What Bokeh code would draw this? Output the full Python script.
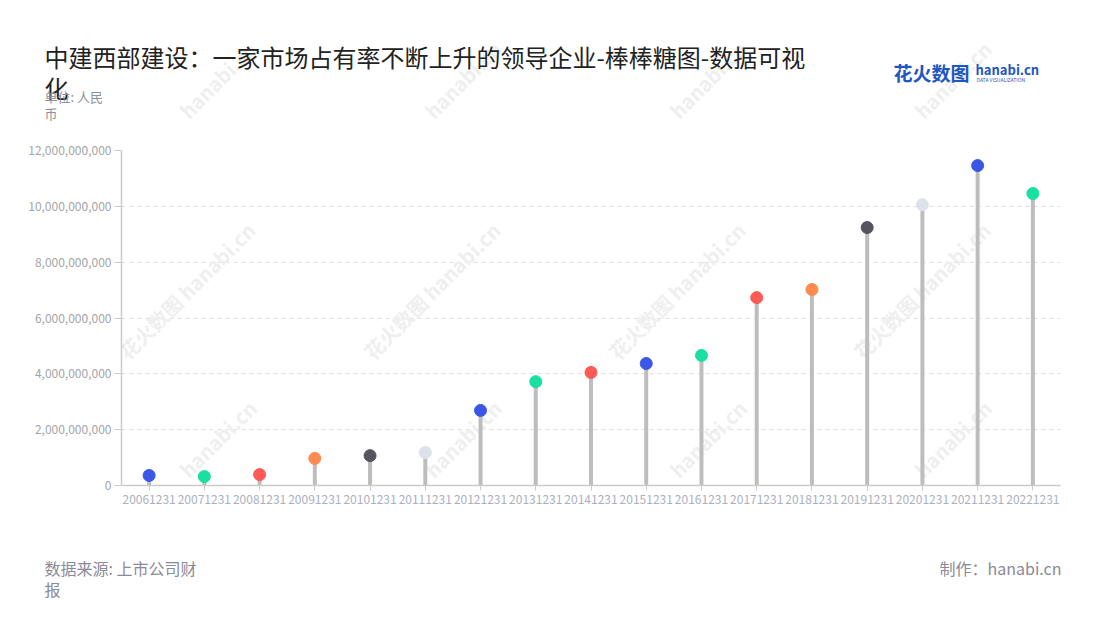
import math
from bokeh.plotting import figure
from bokeh.layouts import column, row
from bokeh.models import (FactorRange, Range1d, FixedTicker, NumeralTickFormatter, Label, ColumnDataSource)
from bokeh.embed import file_html
from bokeh.resources import INLINE

# ---- data ----
dates = ["20061231", "20071231", "20081231", "20091231", "20101231", "20111231",
         "20121231", "20131231", "20141231", "20151231", "20161231", "20171231",
         "20181231", "20191231", "20201231", "20211231", "20221231"]
values = [0.36e9, 0.32e9, 0.39e9, 0.97e9, 1.07e9, 1.18e9,
          2.69e9, 3.72e9, 4.05e9, 4.37e9, 4.66e9, 6.73e9,
          7.02e9, 9.24e9, 10.06e9, 11.46e9, 10.46e9]
dot_colors = ["#3a57e8", "#17e0a1", "#fd5a55", "#ff8b4e", "#56555f", "#dde1ea",
              "#3a57e8", "#17e0a1", "#fd5a55", "#3a57e8", "#17e0a1", "#fd5a55",
              "#ff8b4e", "#56555f", "#dde1ea", "#3a57e8", "#17e0a1"]
y_ticks = [0, 2e9, 4e9, 6e9, 8e9, 10e9, 12e9]

title_line1 = "中建西部建设：一家市场占有率不断上升的领导企业-棒棒糖图-数据可视"
title_line2 = "化"
unit_line1 = "单位: 人民"
unit_line2 = "币"
source_line1 = "数据来源: 上市公司财"
source_line2 = "报"
credit = "制作：hanabi.cn"

FONT = "Noto Sans CJK SC"
W = 1092
HEAD_H, MAIN_H, FOOT_H = 140, 375, 92
WM_X = [132, 377, 622, 867]
WM_COLOR = "#efefef"


def wm(fig, top, text, x, y):
    fig.add_layout(Label(x=x, y=y - top, x_units="canvas", y_units="canvas",
                         text=text, angle=math.pi / 4,
                         text_font=FONT, text_font_size="20px", text_font_style="bold",
                         text_color=WM_COLOR, text_align="left", text_baseline="bottom",
                         level="underlay"))


def text_fig(h):
    f = figure(width=W, height=h, x_range=Range1d(0, W), y_range=Range1d(h, 0),
               x_axis_location=None, y_axis_location=None,
               output_backend="svg", toolbar_location=None, min_border=0)
    f.grid.visible = False
    f.outline_line_color = None
    return f


def lab(fig, top, text, x, y, size, color, align="left", style="normal"):
    fig.add_layout(Label(x=x, y=y - top, x_units="canvas", y_units="canvas", text=text,
                         text_font=FONT, text_font_size=size, text_color=color,
                         text_align=align, text_baseline="middle", text_font_style=style))


# ---- header ----
head = text_fig(HEAD_H)
for wx in WM_X:
    wm(head, 0, "hanabi.cn", wx + 61, 124)
lab(head, 0, title_line1, 44, 56, "24px", "#222222")
lab(head, 0, title_line2, 44, 87, "24px", "#222222")
lab(head, 0, unit_line1, 44, 96, "13px", "#8f8f9c")
lab(head, 0, unit_line2, 44, 113, "13px", "#8f8f9c")
lab(head, 0, "花火数图", 893, 72, "19px", "#1e56c4", style="bold")
lab(head, 0, "hanabi.cn", 975, 69, "13px", "#1e56c4", style="bold")
lab(head, 0, "DATA VISUALIZATION", 976, 79, "5px", "#1e56c4")

# ---- main chart ----
src = ColumnDataSource(dict(x=dates, y=values, c=dot_colors, y0=[0] * len(values)))
MAIN_TOP = HEAD_H
p = figure(width=W, height=MAIN_H, x_range=FactorRange(*dates), y_range=Range1d(0, 12e9),
           output_backend="svg", toolbar_location=None,
           min_border_left=121, min_border_right=W - 1060,
           min_border_top=150 - MAIN_TOP, min_border_bottom=MAIN_TOP + MAIN_H - 485)
p.outline_line_color = None
for wx in WM_X:
    wm(p, MAIN_TOP, "花火数图 hanabi.cn", wx, 365)
    wm(p, MAIN_TOP, "hanabi.cn", wx + 61, 483)

p.segment(x0="x", y0="y0", x1="x", y1="y", source=src, line_width=4, line_color="#bdbdbd")
p.scatter(x="x", y="y", source=src, size=12, fill_color="c", line_color="c")

p.yaxis.ticker = FixedTicker(ticks=y_ticks)
p.yaxis.formatter = NumeralTickFormatter(format="0,0")
for ax in [p.xaxis[0], p.yaxis[0]]:
    ax.axis_line_color = "#cccccc"
    ax.axis_line_width = 1.5
    ax.major_tick_line_color = "#cccccc"
    ax.major_tick_in = 0
    ax.minor_tick_line_color = None
    ax.major_label_text_font = FONT
    ax.major_label_text_font_size = "12px"
p.xaxis.major_label_text_color = "#aab0c0"
p.yaxis.major_label_text_color = "#a4a4a8"
p.yaxis.major_tick_out = 7
p.xaxis.major_tick_out = 5
p.yaxis.major_label_standoff = 3
p.xaxis.major_label_standoff = 4

p.xgrid.grid_line_color = None
p.ygrid.ticker = FixedTicker(ticks=y_ticks[1:])
p.ygrid.grid_line_color = "#e0e0e0"
p.ygrid.grid_line_dash = "4 4"
p.x_range.range_padding = 0

# ---- footer ----
FOOT_TOP = HEAD_H + MAIN_H
foot = text_fig(FOOT_H)
lab(foot, FOOT_TOP, source_line1, 44, 567, "16px", "#8a8a98")
lab(foot, FOOT_TOP, source_line2, 44, 588, "16px", "#8a8a98")
lab(foot, FOOT_TOP, credit, 1061, 567, "16px", "#8a8a98", align="right")

layout = column(row(head), p, row(foot), spacing=0)
open("out.html", "w").write(file_html(layout, INLINE))
